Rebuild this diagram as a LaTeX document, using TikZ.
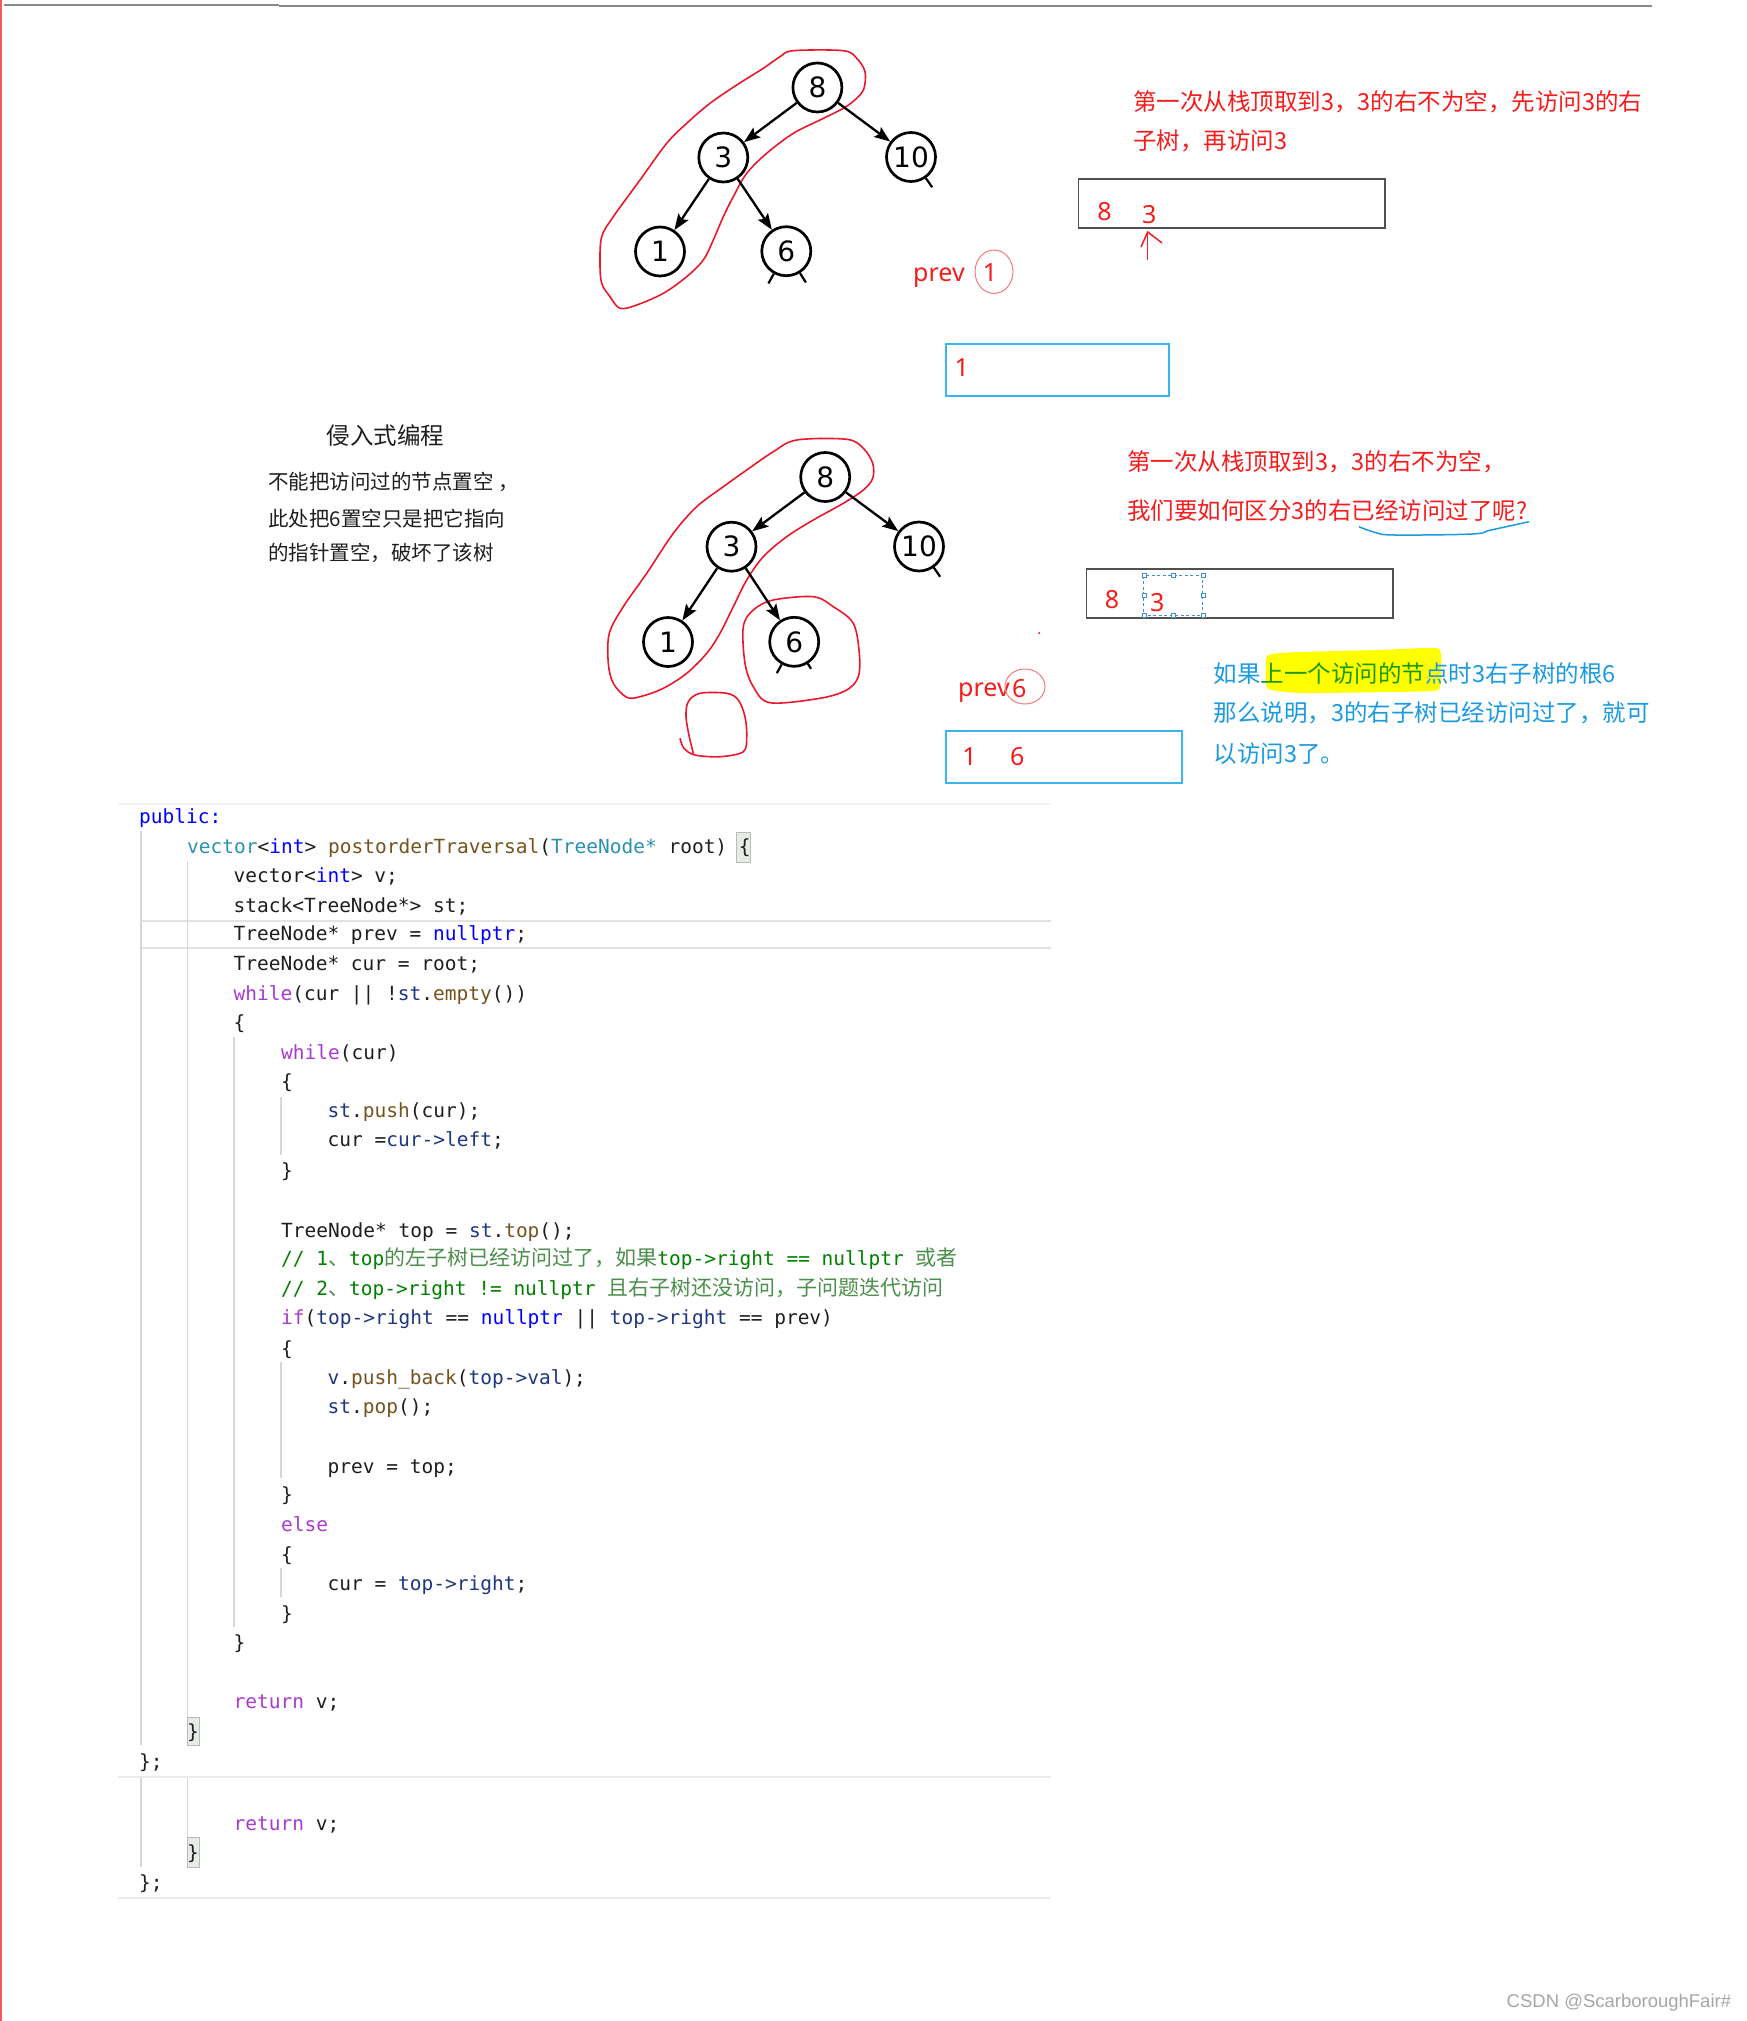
\documentclass[tikz,border=0pt]{standalone}
\usepackage{fontspec}
\setmainfont{Noto Sans}
\newfontfamily\cjk{Noto Sans CJK SC}
\newfontfamily\djv{DejaVu Sans}
\newfontfamily\mono{DejaVu Sans Mono}
\newfontfamily\lsans{Liberation Sans}
\usetikzlibrary{arrows.meta,calc}
\definecolor{myred}{HTML}{F41C1C}
\definecolor{loopred}{HTML}{E8192C}
\definecolor{lightred}{HTML}{F27B7B}
\definecolor{myblue}{HTML}{1A9AE0}
\definecolor{myboxblue}{HTML}{3AB5EF}
\definecolor{mygreen}{HTML}{1A9A00}
\definecolor{hlyellow}{HTML}{FFFF00}
\definecolor{boxgray}{HTML}{505050}
\definecolor{kwblue}{HTML}{0000FF}
\definecolor{tealc}{HTML}{2B91AF}
\definecolor{olivec}{HTML}{74531F}
\definecolor{navyc}{HTML}{1F377F}
\definecolor{magc}{HTML}{A83CD0}
\definecolor{cmtc}{HTML}{008000}
\definecolor{cmtzh}{HTML}{4C8F4C}
\definecolor{guide}{HTML}{D6D6D6}
\definecolor{sepc}{HTML}{EBEBEB}
\definecolor{bracefill}{HTML}{E6EBE6}
\definecolor{braceline}{HTML}{B4BEB4}
\definecolor{wm}{HTML}{A6A6A6}
\definecolor{topgray}{HTML}{8A8A8A}
\definecolor{leftred}{HTML}{F25A5A}
\definecolor{txtblack}{HTML}{1E1E1E}
\definecolor{selblue}{HTML}{3D8FD0}
\newcommand\cKB[1]{\textcolor{kwblue}{#1}}
\newcommand\cTE[1]{\textcolor{tealc}{#1}}
\newcommand\cOL[1]{\textcolor{olivec}{#1}}
\newcommand\cNV[1]{\textcolor{navyc}{#1}}
\newcommand\cMG[1]{\textcolor{magc}{#1}}
\newcommand\cZH[1]{{\cjk\fontsize{21}{22}\selectfont\color{cmtzh}#1}}
\begin{document}
\begin{tikzpicture}[x=1pt,y=-1pt,
  tnode/.style={circle, draw=black, line width=2.7pt, minimum size=49pt, inner sep=0pt, font=\djv\fontsize{28}{30}\selectfont},
  tedge/.style={line width=2.3pt, -{Stealth[length=16pt,width=12pt,inset=3pt]}},
  ttail/.style={line width=2.2pt},
  loopline/.style={draw=loopred, line width=1.6pt},
  code/.style={anchor=base west, inner sep=0pt, text=txtblack, font=\mono\fontsize{19.5}{22}\selectfont},
  zh/.style={anchor=west, inner sep=0pt, font=\cjk\fontsize{23.5}{28}\selectfont},
  zhs/.style={anchor=west, inner sep=0pt, text=txtblack, font=\cjk\fontsize{20.5}{24}\selectfont},
  digit/.style={inner sep=0pt, text=myred, font=\fontsize{25}{28}\selectfont},
  stackbox/.style={draw=boxgray, line width=1.8pt},
  bluebox/.style={draw=myboxblue, line width=2pt},
  guideline/.style={draw=guide, line width=1.3pt},
  sepline/.style={draw=sepc, line width=2pt},
  bracebox/.style={fill=bracefill, draw=braceline, line width=1pt},
  handle/.style={draw=selblue, fill=white, line width=0.6pt}
]
\useasboundingbox (0,0) rectangle (1747,2021);
\fill[white] (0,0) rectangle (1747,2021);

% page edges
\draw[draw=topgray, line width=2pt] (4,4.5) -- (279,4.5);
\draw[draw=topgray, line width=2pt] (279,5.7) -- (1652,5.7);
\draw[draw=leftred, line width=2.5pt] (1.2,0) -- (1.2,2021);

% ---------- tree 1 ----------
\draw[loopline] plot[smooth cycle, tension=0.55] coordinates {
 (793.3,50.7) (843.3,50.7) (856.7,58.3) (865,71.7) (864,88.3) (856.7,98.3)
 (843.3,108.3) (820,120) (793.3,133.3) (766.7,153.3) (746.7,173.3) (733.3,196.7)
 (723.3,216.7) (713.3,240) (703.3,260) (686.7,276.7) (663.3,293.3) (636.7,305)
 (620,308.3) (610,296.7) (601.7,283.3) (600,263.3) (601.7,236.7) (613.3,216.7)
 (640,180) (666.7,143.3) (686.7,123.3) (710,103.3) (736.7,85) (763.3,68.3) (780,56.7)};
\node[tnode] (a8) at (817.4,87.5) {8};
\node[tnode] (a3) at (723.3,157.5) {3};
\node[tnode] (a10) at (911,157) {10};
\node[tnode] (a1) at (660,251.5) {1};
\node[tnode] (a6) at (786.3,251.2) {6};
\draw[tedge] (a8) -- (a3);
\draw[tedge] (a8) -- (a10);
\draw[tedge] (a3) -- (a1);
\draw[tedge] (a3) -- (a6);
\draw[ttail] (a10.-55) -- ++(-55:11pt);
\draw[ttail] (a6.-119) -- ++(-119:11pt);
\draw[ttail] (a6.-58) -- ++(-58:11pt);

% prev 1
\node[anchor=base west, inner sep=0pt, text=myred, font=\fontsize{25}{28}\selectfont] (prev1) at (913,281.7) {prev};
\node[digit] (p1d) at (990,272.5) {1};
\draw[draw=lightred, line width=1pt] (994,271.7) ellipse [x radius=19, y radius=21.7];

% text 1
\node[zh, text=myred] (t1a) at (1133,101.7) {第一次从栈顶取到3，3的右不为空，先访问3的右};
\node[zh, text=myred] (t1b) at (1133,141) {子树，再访问3};
\draw[stackbox] (1078.4,179.3) rectangle (1385,228.3);
\node[digit] (s1a) at (1104.4,211.7) {8};
\node[digit] (s1b) at (1149.2,215) {3};
\coordinate (arrtail) at (1147.7,260);
\coordinate (arrtip) at (1147.7,232);
\draw[draw=myred, line width=1.5pt] (arrtail) -- (arrtip);
\draw[draw=myred, line width=1.5pt] (1141,247) -- (arrtip) -- (1162,243);

\draw[bluebox] (946.4,344.2) rectangle (1169.4,395.8);
\node[digit] (v1a) at (961.8,367.5) {1};

% ---------- left text ----------
\node[inner sep=0pt, text=txtblack, font=\cjk\fontsize{23.5}{28}\selectfont] (title) at (385.5,436) {侵入式编程};
\node[zhs] (l1) at (268.2,482) {不能把访问过的节点置空 ，};
\node[zhs] (l2) at (268.2,518.3) {此处把6置空只是把它指向};
\node[zhs] (l3) at (268.2,553.3) {的指针置空，破坏了该树};

% ---------- tree 2 ----------
\draw[loopline] plot[smooth cycle, tension=0.55] coordinates {
 (796.7,440) (846.7,439.3) (863.3,448.3) (872.7,463.3) (872.7,478.3) (863.3,490)
 (843.3,503.3) (813.3,520) (786.7,536.7) (763.3,556.7) (746.7,580) (733.3,606.7)
 (720,633.3) (706.7,653.3) (686.7,673.3) (663.3,688.3) (640,696.7) (626.7,697.3)
 (613.3,683.3) (608.3,663.3) (609.3,633.3) (623.3,606.7) (646.7,573.3) (673.3,533.3)
 (696.7,506.7) (723.3,486.7) (746.7,470) (773.3,451.7)};
\draw[loopline] plot[smooth cycle, tension=0.55] coordinates {
 (743.3,626.7) (753.3,610) (773.3,600) (813.3,596.7) (833.3,606.7) (853.3,623.3)
 (859.3,653.3) (858.3,676.7) (846.7,690) (820,698.3) (770,702.7) (753.3,686.7) (745,663.3)};
\draw[loopline] plot[smooth, tension=0.55] coordinates {
 (680,738.3) (684,748.3) (695,755) (720,756.7) (743.3,751.7) (746.7,736.7) (745,716.7)
 (738.3,700) (726.7,693.3) (700,693.3) (688.3,701.7) (686,716.7) (689.3,736.7) (693.3,753.3)};
\node[tnode] (b8) at (825.2,477) {8};
\node[tnode] (b3) at (731.5,546.7) {3};
\node[tnode] (b10) at (919,546.5) {10};
\node[tnode] (b1) at (668,642) {1};
\node[tnode] (b6) at (794.2,641.8) {6};
\draw[tedge] (b8) -- (b3);
\draw[tedge] (b8) -- (b10);
\draw[tedge] (b3) -- (b1);
\draw[tedge] (b3) -- (b6);
\draw[ttail] (b10.-55) -- ++(-55:11pt);
\draw[ttail] (b6.-119) -- ++(-119:10pt);
\draw[ttail] (b6.-58) -- ++(-58:6pt);
\fill[myred] (1039.2,633) circle (1.2pt);

% prev 2
\node[anchor=base west, inner sep=0pt, text=myred, font=\fontsize{25}{28}\selectfont] (prev2) at (958,696.7) {prev};
\node[digit] (p2d) at (1019.3,688.3) {6};
\draw[draw=lightred, line width=1pt] (1025,686.5) ellipse [x radius=20, y radius=17.5];
\draw[bluebox] (946.4,731) rectangle (1181.5,782.7);
\node[digit] (v2a) at (969.5,756.8) {1};
\node[digit] (v2b) at (1017.3,756.8) {6};

% text 2
\node[zh, text=myred] (t2a) at (1127,461.5) {第一次从栈顶取到3，3的右不为空，};
\node[zh, text=myred] (t2b) at (1127,510.7) {我们要如何区分3的右已经访问过了呢?};
\draw[draw=myblue, line width=1.5pt] plot[smooth, tension=0.6] coordinates {
 (1359,526.7) (1376,532.7) (1395,535) (1471.8,534) (1491,530) (1529,521.7)};
\draw[stackbox] (1086.5,569.3) rectangle (1393,617.7);
\node[digit] (s2a) at (1112,600) {8};
\node[digit] (s2b) at (1157.3,602.7) {3};
\draw[draw=selblue, line width=0.9pt, dash pattern=on 3pt off 2.5pt] (1143.9,575.7) rectangle (1202.8,615.7);
\foreach \hx/\hy in {1143.9/575.7, 1173.3/575.7, 1202.8/575.7, 1143.9/595.7, 1202.8/595.7, 1143.9/615.7, 1173.3/615.7, 1202.8/615.7}
  \draw[handle] (\hx-2,\hy-2) rectangle (\hx+2,\hy+2);

% blue text with highlight
\fill[hlyellow] plot[smooth cycle, tension=0.3] coordinates {
 (1268,655) (1300,652) (1380,650) (1438,648.5) (1441,670) (1438,690) (1390,692) (1300,693) (1268,689) (1266,672)};
\node[zh] (t3a) at (1213.5,674) {\textcolor{myblue}{如果}\textcolor{mygreen}{上一个访问的节}\textcolor{myblue}{点时3右子树的根6}};
\node[zh, text=myblue] (t3b) at (1213.5,713.3) {那么说明，3的右子树已经访问过了，就可};
\node[zh, text=myblue] (t3c) at (1213.5,753.3) {以访问3了。};

% ---------- code ----------
\draw[draw=sepc!60, line width=1.5pt] (118,804) -- (1051,804);
\draw[draw=guide!70, line width=2pt] (1051,920.5) -- (141,920.5) -- (141,947.6) -- (1051,947.6);
\draw[guideline] (141,831) -- (141,1745);
\draw[guideline] (141,1778) -- (141,1867);
\draw[guideline] (187.5,861) -- (187.5,1717);
\draw[guideline] (187.5,1778) -- (187.5,1837);
\draw[guideline] (234,1037) -- (234,1627);
\draw[guideline] (281,1097) -- (281,1155);
\draw[guideline] (281,1362) -- (281,1478);
\draw[guideline] (281,1568) -- (281,1597);
\draw[sepline] (118,1776.7) -- (1051,1776.7);
\draw[sepline] (118,1897.8) -- (1051,1897.8);
\draw[bracebox] (736.5,832) rectangle (750,862);
\draw[bracebox] (187.5,1717) rectangle (199.5,1745);
\draw[bracebox] (187.5,1837) rectangle (199.5,1867);

\node[code] (c1) at (139,823) {\cKB{public:}};
\node[code] (c2) at (187,853) {\cTE{vector}<\cKB{int}> \cOL{postorderTraversal}(\cTE{TreeNode*} root) \{};
\node[code] (c3) at (233.4,882.5) {vector<\cKB{int}> v;};
\node[code] (c4) at (233.4,912) {stack<TreeNode*> st;};
\node[code] (c5) at (233.4,940.5) {TreeNode* prev = \cKB{nullptr};};
\node[code] (c6) at (233.4,970) {TreeNode* cur = root;};
\node[code] (c7) at (233.4,1000) {\cMG{while}(cur || !\cNV{st}.\cOL{empty}())};
\node[code] (c8) at (233.4,1029.4) {\{};
\node[code] (c9) at (281,1059) {\cMG{while}(cur)};
\node[code] (c10) at (281,1088.7) {\{};
\node[code] (c11) at (327.5,1117) {\cNV{st}.\cOL{push}(cur);};
\node[code] (c12) at (327.5,1146.7) {cur =\cNV{cur->left};};
\node[code] (c13) at (281,1177.7) {\}};
\node[code] (c14) at (281,1237) {TreeNode* top = \cNV{st}.\cOL{top}();};
\node[code] (c15) at (281,1265.4) {\textcolor{cmtc}{// 1\cZH{、}top\cZH{的左子树已经访问过了，如果}top->right == nullptr \cZH{或者}}};
\node[code] (c16) at (281,1295) {\textcolor{cmtc}{// 2\cZH{、}top->right != nullptr \cZH{且右子树还没访问，子问题迭代访问}}};
\node[code] (c17) at (281,1324.7) {\cMG{if}(\cNV{top->right} == \cKB{nullptr} || \cNV{top->right} == prev)};
\node[code] (c18) at (281,1355.6) {\{};
\node[code] (c19) at (327.5,1384) {\cNV{v}.\cOL{push\_back}(\cNV{top->val});};
\node[code] (c20) at (327.5,1413.6) {\cNV{st}.\cOL{pop}();};
\node[code] (c21) at (327.5,1473) {prev = top;};
\node[code] (c22) at (281,1501.3) {\}};
\node[code] (c23) at (281,1531) {\cMG{else}};
\node[code] (c24) at (281,1561.9) {\{};
\node[code] (c25) at (327.5,1590.3) {cur = \cNV{top->right};};
\node[code] (c26) at (281,1620) {\}};
\node[code] (c27) at (233.4,1649.6) {\}};
\node[code] (c28) at (233.4,1708.9) {\cMG{return} v;};
\node[code] (c29) at (187,1738.6) {\}};
\node[code] (c30) at (139,1768.2) {\};};
\node[code] (c31) at (233.4,1830.1) {\cMG{return} v;};
\node[code] (c32) at (187,1859.7) {\}};
\node[code] (c33) at (139,1889.4) {\};};

% watermark
\node[anchor=west, inner sep=0pt, text=wm, font=\lsans\fontsize{18.5}{20}\selectfont] (wmark) at (1506.5,2003) {CSDN @ScarboroughFair\#};
\end{tikzpicture}
\end{document}
